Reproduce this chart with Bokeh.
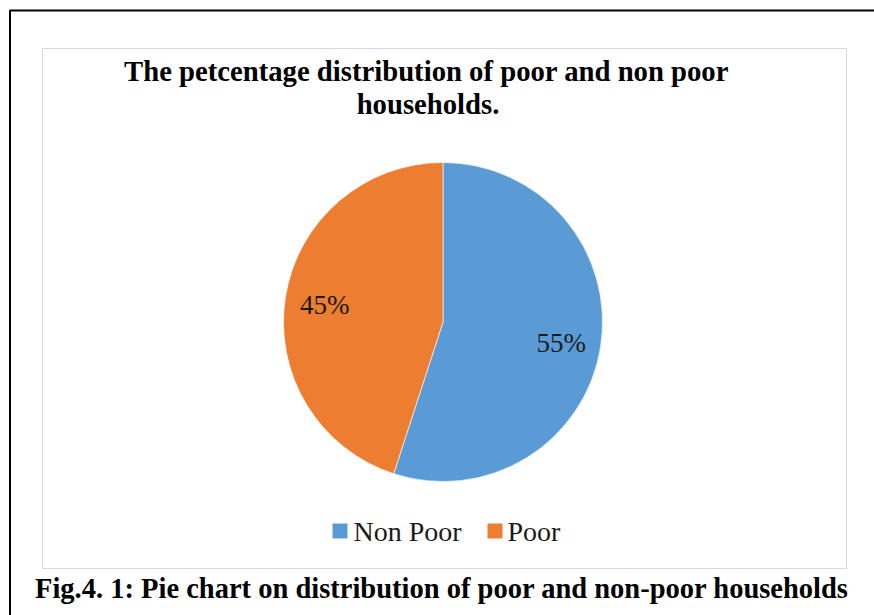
import math
from bokeh.plotting import figure
from bokeh.models import Range1d, ColumnDataSource
from bokeh.core.properties import value
from bokeh.embed import file_html
from bokeh.resources import INLINE

# ---- data ----
categories = ["Non Poor", "Poor"]
shares = [55, 45]
labels = ["55%", "45%"]
colors = ["#5b9bd5", "#ed7d31"]
title_lines = ["The petcentage distribution of poor and non poor", "households."]
caption = "Fig.4. 1: Pie chart on distribution of poor and non-poor households"

W, H = 874, 615
FONT = value("Liberation Serif")


def Y(fy):
    return H - fy


p = figure(width=W, height=H, x_range=Range1d(0, W), y_range=Range1d(0, H),
           output_backend="svg", toolbar_location=None, min_border=0)
p.axis.visible = False
p.grid.visible = False
p.outline_line_color = None
p.background_fill_color = "white"
p.border_fill_color = "white"

# outer black frame (document box) and inner chart area
p.quad(left=9.5, right=W + 20, top=Y(10), bottom=-20, fill_color=None,
       line_color="black", line_width=2)
p.quad(left=42, right=846, top=Y(48), bottom=Y(568), fill_color=None,
       line_color="#d9d9d9", line_width=1)

# pie
cx, cy, r = 442.5, Y(321.5), 159.5
total = float(sum(shares))
starts, ends, mids = [], [], []
acc = 0.0
for s in shares:
    a0 = math.pi / 2 - 2 * math.pi * acc / total
    acc += s
    a1 = math.pi / 2 - 2 * math.pi * acc / total
    starts.append(a0)
    ends.append(a1)
    mids.append((a0 + a1) / 2)

src = ColumnDataSource(dict(cat=categories, start=starts, end=ends, color=colors,
                            lx=[cx + 0.75 * r * math.cos(m) for m in mids],
                            ly=[cy + 0.75 * r * math.sin(m) - 2 for m in mids],
                            lab=labels))
p.wedge(x=cx, y=cy, radius=r, start_angle="start", end_angle="end", direction="clock",
        fill_color="color", line_color="white", line_width=1, line_alpha=0.6, source=src)
p.text(x="lx", y="ly", text="lab", source=src, text_font=FONT, text_font_size="27px",
       text_color="#1a1a1a", text_align="center", text_baseline="middle")

# title
p.text(x=[426], y=[Y(70)], text=[title_lines[0]], text_font=FONT, text_font_style="bold",
       text_font_size="28.7px", text_color="black", text_align="center", text_baseline="middle")
p.text(x=[427.5], y=[Y(103)], text=[title_lines[1]], text_font=FONT, text_font_style="bold",
       text_font_size="28.7px", text_color="black", text_align="center", text_baseline="middle")

# legend
leg_sq_x = [339.5, 494.5]
leg_tx_x = [353, 507]
p.scatter(x=leg_sq_x, y=[Y(530.5)] * 2, marker="square", size=15, fill_color=colors,
          line_color=None)
p.text(x=leg_tx_x, y=[Y(531)] * 2, text=categories, text_font=FONT, text_font_size="28px",
       text_color="#1a1a1a", text_align="left", text_baseline="middle")

# caption
p.text(x=[441.5], y=[Y(587.5)], text=[caption], text_font=FONT, text_font_style="bold",
       text_font_size="28.5px", text_color="black", text_align="center", text_baseline="middle")

open("out.html", "w").write(file_html(p, INLINE))
